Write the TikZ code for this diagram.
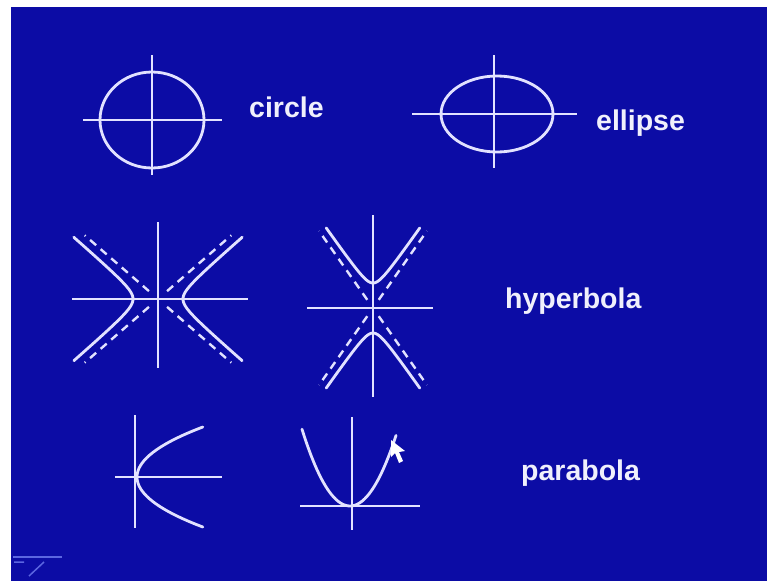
\documentclass[tikz,border=0pt]{standalone}
\usepackage{fontspec}
\setmainfont{Liberation Sans}
\usepackage{tikz}
\definecolor{slideblue}{RGB}{12,12,165}
\definecolor{chalk}{RGB}{226,226,255}
\definecolor{labelwhite}{RGB}{240,240,252}
\definecolor{iconblue}{RGB}{92,102,225}

\begin{document}
\begin{tikzpicture}[x=1pt, y=-1pt,
    axis/.style={draw=chalk, line width=2.3pt},
    curve/.style={draw=chalk, line width=2.8pt, line cap=round},
    asym/.style={draw=chalk, line width=2.4pt, dash pattern=on 8pt off 6pt},
    lbl/.style={anchor=base west, text=labelwhite, inner sep=0pt,
                font=\fontsize{28.5}{28.5}\selectfont\bfseries}
  ]
  \useasboundingbox (0,0) rectangle (767,581);
  \fill[white] (0,0) rectangle (767,581);
  \fill[slideblue] (10.5,7) rectangle (767,581);

  % circle
  \coordinate (circ) at (152,120);
  \draw[curve] (circ) ellipse[x radius=52, y radius=48];
  \draw[axis] (83,120) -- (222,120);
  \draw[axis] (152,55) -- (152,175);
  \node[lbl] (circlelbl) at (249,117) {circle};

  % ellipse
  \coordinate (ell) at (497,114);
  \draw[curve] (ell) ellipse[x radius=56, y radius=38];
  \draw[axis] (412,114) -- (577,114);
  \draw[axis] (494,55) -- (494,168);
  \node[lbl] (ellipselbl) at (596,130) {ellipse};

  % hyperbola, opening left/right
  \begin{scope}[shift={(158,299)}]
    \draw[axis] (-86,0) -- (90,0);
    \draw[axis] (0,-77) -- (0,69);
    \foreach \s in {1,-1}
      \draw[curve] plot[domain=-2.4:2.4, samples=50, smooth, variable=\t]
        ({\s*(12+13*cosh(\t))}, {11.3*sinh(\t)});
    \foreach \a in {41,139,221,319}
      \draw[asym] (\a:12) -- (\a:97);
  \end{scope}

  % hyperbola, opening up/down
  \begin{scope}[shift={(373,308)}]
    \draw[axis] (-66,0) -- (60,0);
    \draw[axis] (0,-93) -- (0,89);
    \foreach \s in {1,-1}
      \draw[curve] plot[domain=-2.34:2.34, samples=50, smooth, variable=\t]
        ({9.1*sinh(\t)}, {\s*(12+13*cosh(\t))});
    \foreach \a in {55,125,235,305}
      \draw[asym] (\a:10) -- (\a:94);
  \end{scope}
  \node[lbl] (hyperlbl) at (505,308) {hyperbola};

  % parabola, opening right
  \begin{scope}[shift={(137,477)}]
    \draw[axis] (-22,0) -- (85,0);
    \draw[axis] (-2,-62) -- (-2,51);
    \draw[curve] plot[domain=-50:50, samples=40, smooth, variable=\t]
      ({\t*\t/38}, {\t});
  \end{scope}

  % parabola, opening up
  \begin{scope}[shift={(350,506)}]
    \draw[axis] (-50,0) -- (70,0);
    \draw[axis] (2,-89) -- (2,24);
    \draw[curve] plot[domain=-48:46, samples=40, smooth, variable=\t]
      ({\t}, {-\t*\t/30});
  \end{scope}
  \node[lbl] (paralbl) at (521,480) {parabola};

  % mouse pointer
  \fill[white] (391,440) -- (391,457) -- (395,453) -- (399,463)
    -- (403,461) -- (399,452) -- (405,451) -- cycle;

  % slide corner icon
  \draw[iconblue, line width=2pt] (13,557) -- (62,557);
  \draw[iconblue, line width=1.5pt] (14,562) -- (24,562) (29,576) -- (44,562);
\end{tikzpicture}
\end{document}
